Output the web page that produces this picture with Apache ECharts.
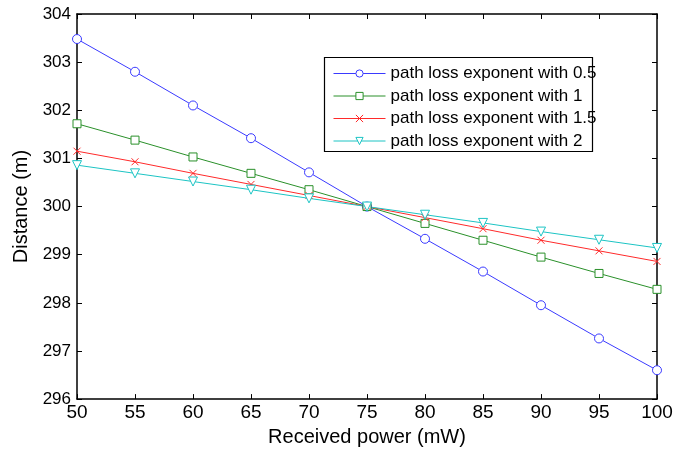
<!DOCTYPE html>
<html><head><meta charset="utf-8">
<script src="https://cdn.jsdelivr.net/npm/echarts@6/dist/echarts.min.js"></script>
<style>html,body{margin:0;padding:0;background:#fff}#c{width:700px;height:452px}</style>
</head><body><div id="c"></div>
<script>
const power = [50,55,60,65,70,75,80,85,90,95,100];
const exp05 = [303.48,302.80,302.10,301.42,300.71,300.00,299.33,298.65,297.95,297.26,296.60];
const exp1  = [301.72,301.38,301.03,300.69,300.35,300.00,299.65,299.30,298.95,298.61,298.28];
const exp15 = [301.15,300.93,300.69,300.46,300.23,300.00,299.77,299.54,299.30,299.08,298.86];
const exp2  = [300.86,300.69,300.52,300.35,300.17,300.00,299.83,299.66,299.48,299.31,299.14];
const names = ['path loss exponent with 0.5','path loss exponent with 1','path loss exponent with 1.5','path loss exponent with 2'];
const font = 'Liberation Sans, Arial, sans-serif';
function pairs(v){ return power.map((p,i)=>[p,v[i]]); }
const chart = echarts.init(document.getElementById('c'), null, {renderer:'canvas'});
const axisCommon = {
  axisLine:{show:true,onZero:false,lineStyle:{color:'#000',width:1.5}},
  axisTick:{show:true,inside:true,length:5,lineStyle:{color:'#000'}},
  splitLine:{show:false}
};
function mk(name, data, color, symbol, extra){
  return Object.assign({
    name, type:'line', data:pairs(data), symbol, symbolSize:9,
    showAllSymbol:true, animation:false,
    lineStyle:{color, width:1}, itemStyle:{color:'#fff', borderColor:color, borderWidth:1}
  }, extra||{});
}
chart.setOption({
  animation:false,
  grid:{left:77,right:43,top:14,bottom:51},
  graphic:[{type:'rect',shape:{x:324.5,y:57.5,width:268,height:94},
    style:{fill:'#fff',stroke:'#000',lineWidth:1.2},z:1}],
  legend:{
    orient:'vertical', left:333, top:65, z:5,
    padding:0, itemGap:5.5, itemWidth:52, itemHeight:9,
    textStyle:{fontFamily:font,fontSize:17,color:'#000',padding:[0,0,0,0]},
    itemStyle:{borderWidth:1},
    lineStyle:{width:1},
    data:names
  },
  xAxis:[
    Object.assign({type:'value',min:50,max:100,interval:5,name:'Received power (mW)',nameLocation:'middle',nameGap:26,
      nameTextStyle:{fontFamily:font,fontSize:20,color:'#000'},
      axisLabel:{fontFamily:font,fontSize:19,color:'#000',margin:4}},axisCommon),
    Object.assign({type:'value',min:50,max:100,interval:5,position:'top',axisLabel:{show:false}},axisCommon)
  ],
  yAxis:[
    Object.assign({type:'value',min:296,max:304,interval:1,name:'Distance (m)',nameLocation:'middle',nameGap:42,
      nameTextStyle:{fontFamily:font,fontSize:20,color:'#000'},
      axisLabel:{fontFamily:font,fontSize:17,color:'#000',margin:6}},axisCommon),
    Object.assign({type:'value',min:296,max:304,interval:1,position:'right',axisLabel:{show:false}},axisCommon)
  ],
  series:[
    mk(names[0], exp05, '#3a3aff', 'circle'),
    mk(names[1], exp1, '#2a902a', 'rect', {symbolSize:8}),
    mk(names[2], exp15, '#ff2a2a', 'path://M0,0L10,10M10,0L0,10', {symbolSize:7}),
    mk(names[3], exp2, '#1cc4c4', 'triangle', {symbolRotate:180, symbolSize:9})
  ]
});
</script></body></html>
